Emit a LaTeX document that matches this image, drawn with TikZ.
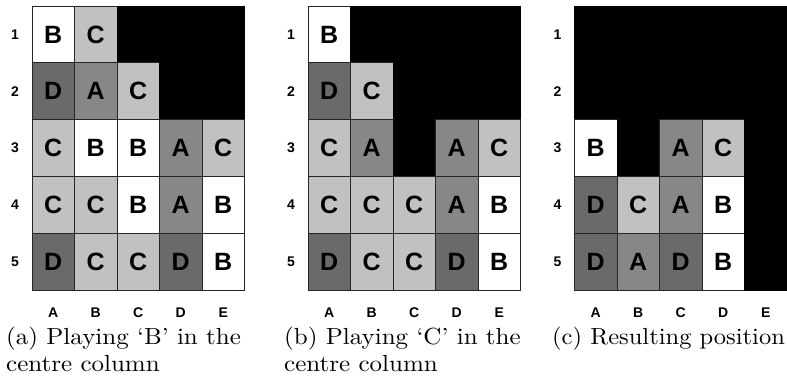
\documentclass[tikz,border=0pt]{standalone}
\usepackage{fontspec}
\usepackage{graphicx}
\newfontfamily\lsans{Liberation Sans}
\definecolor{cA}{HTML}{878787}
\definecolor{cC}{HTML}{C1C1C1}
\definecolor{cD}{HTML}{6A6A6A}
\tikzset{
 cell/.style={draw=black!85, line width=0.7pt, minimum width=42.5pt, minimum height=56.8pt,
   inner sep=0pt, outer sep=0pt, font=\lsans\bfseries\fontsize{25}{25}\selectfont},
 cellA/.style={cell, fill=cA, node contents=A},
 cellB/.style={cell, fill=white, node contents=B},
 cellC/.style={cell, fill=cC, node contents=C},
 cellD/.style={cell, fill=cD, node contents=D},
 cellK/.style={cell, fill=black, draw=black, node contents={}},
 lab/.style={font=\lsans\bfseries\fontsize{14}{14}\selectfont, inner sep=0pt},
 captxt/.style={anchor=base west, inner sep=0pt}
}
\newcommand{\gridpanel}[3]{%
 \foreach \row [count=\r] in {#3} {
   \foreach \v [count=\c] in \row {
     \edef\tmpnode{\noexpand\node (#1-\r-\c) at ({#2+(\c-0.5)*42.5},{6+(\r-0.5)*56.8}) [cell\v];}
     \tmpnode
   }
   \node[lab] (#1-r\r) at ({#2-17},{6+(\r-0.5)*56.8}) {\r};
 }
 \foreach \l [count=\c] in {A,B,C,D,E} {
   \node[lab] (#1-c\c) at ({#2+(\c-0.5)*42.5},313) {\l};
 }
}
\begin{document}
\begin{tikzpicture}[x=1pt,y=-1pt]
\useasboundingbox (0,0) rectangle (787,381);
\gridpanel{a}{32}{{B,C,K,K,K},{D,A,C,K,K},{C,B,B,A,C},{C,C,B,A,B},{D,C,C,D,B}}
\gridpanel{b}{308}{{B,K,K,K,K},{D,C,K,K,K},{C,A,K,A,C},{C,C,C,A,B},{D,C,C,D,B}}
\gridpanel{c}{574.5}{{K,K,K,K,K},{K,K,K,K,K},{B,K,A,C,K},{D,C,A,B,K},{D,A,D,B,K}}
\node[captxt] (capa) at (6,344) {\scalebox{2.5}[2.33]{\fontsize{10}{12}\selectfont\begin{tabular}[t]{@{}l@{}}(a) Playing `B' in the\\ centre column\end{tabular}}};
\node[captxt] (capb) at (284,344) {\scalebox{2.5}[2.33]{\fontsize{10}{12}\selectfont\begin{tabular}[t]{@{}l@{}}(b) Playing `C' in the\\ centre column\end{tabular}}};
\node[captxt] (capc) at (552,344) {\scalebox{2.45}[2.33]{\fontsize{10}{12}\selectfont\begin{tabular}[t]{@{}l@{}}(c) Resulting position\end{tabular}}};
\end{tikzpicture}
\end{document}
